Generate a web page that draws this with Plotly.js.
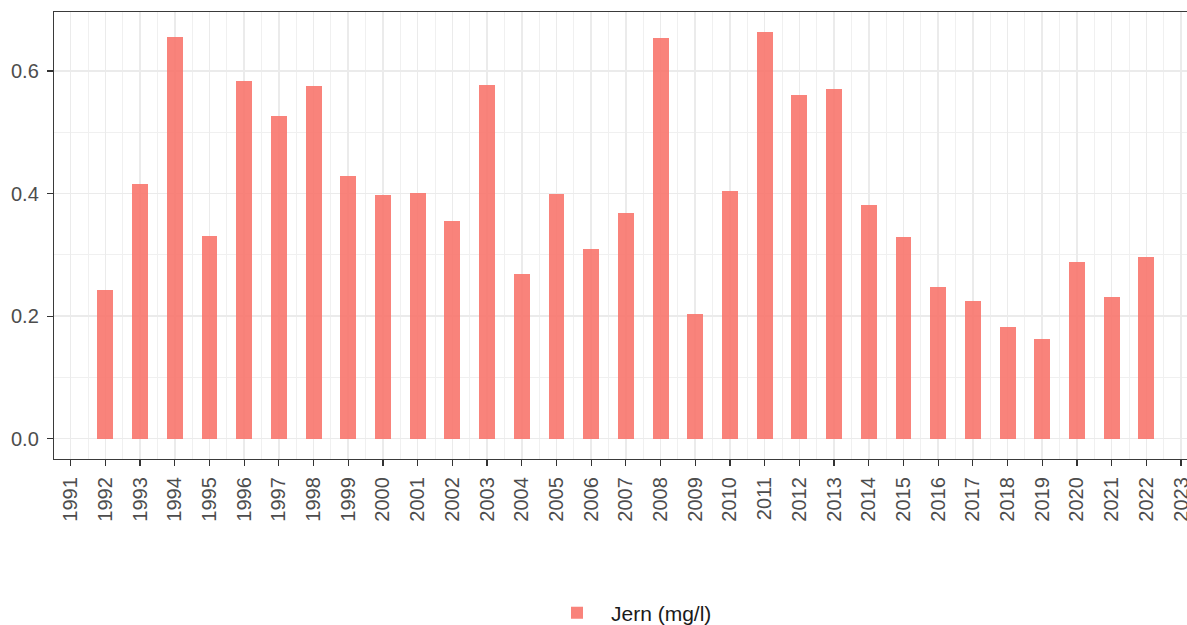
<!DOCTYPE html>
<html>
<head>
<meta charset="utf-8">
<script src="https://cdn.plot.ly/plotly-3.0.1.min.js"></script>
<style>
  html, body { margin: 0; padding: 0; overflow: hidden; background: #ffffff; }
  #chart { width: 1240px; height: 625px; }
</style>
</head>
<body>
<div id="chart"></div>
<script>
// Annual iron concentration (mg/l)
const years = [1992, 1993, 1994, 1995, 1996, 1997, 1998, 1999, 2000, 2001,
               2002, 2003, 2004, 2005, 2006, 2007, 2008, 2009, 2010, 2011,
               2012, 2013, 2014, 2015, 2016, 2017, 2018, 2019, 2020, 2021, 2022];
const jern = [0.243, 0.416, 0.656, 0.331, 0.583, 0.527, 0.576, 0.428, 0.397, 0.401,
              0.355, 0.577, 0.269, 0.399, 0.310, 0.368, 0.654, 0.204, 0.404, 0.663,
              0.561, 0.571, 0.382, 0.329, 0.248, 0.224, 0.183, 0.162, 0.288, 0.231, 0.296];
const seriesName = "Jern (mg/l)";
const xTicks = [];
for (let y = 1991; y <= 2023; y++) xTicks.push(y);
const yTicks = [0, 0.2, 0.4, 0.6];
const yTickText = ["0.0", "0.2", "0.4", "0.6"];

const maxVal = Math.max(...jern);
const pxPerYear = 34.7;
const plotWidth = 1240;
const plotHeight = 625;
const marginL = 54;
const xStart = 1990.519;
const xEnd = xStart + (plotWidth - marginL) / pxPerYear;

const trace = {
  type: "bar",
  x: years,
  y: jern,
  name: seriesName,
  width: 0.46,
  marker: { color: "rgba(248,118,109,0.9)", line: { width: 0 } },
  showlegend: true,
  hoverinfo: "x+y"
};

const gridMajor = "#EBEBEB";
const gridMinor = "#F0F0F0";
const axisFont = { family: "Liberation Sans, Arial, sans-serif", size: 20, color: "#4D4D4D" };

const layout = {
  width: plotWidth,
  height: plotHeight,
  margin: { l: marginL, r: 0, t: 12, b: 166 },
  paper_bgcolor: "#ffffff",
  plot_bgcolor: "#ffffff",
  font: axisFont,
  bargap: 0,
  xaxis: {
    range: [xStart, xEnd],
    tickmode: "array",
    tickvals: xTicks,
    ticktext: xTicks.map(String),
    tickangle: -90,
    ticks: "outside",
    ticklen: 6,
    tickwidth: 1.2,
    tickcolor: "#333333",
    ticklabelstandoff: 3,
    tickfont: axisFont,
    showgrid: true,
    gridcolor: gridMajor,
    gridwidth: 1.6,
    minor: { tickmode: "linear", tick0: 0.5, dtick: 1, showgrid: true, gridcolor: gridMinor, gridwidth: 1, ticklen: 0 },
    showline: true,
    linecolor: "#3a3a3a",
    linewidth: 1.2,
    mirror: true,
    zeroline: false,
    automargin: false,
    fixedrange: true
  },
  yaxis: {
    range: [-0.05 * maxVal, 1.05 * maxVal],
    tickmode: "array",
    tickvals: yTicks,
    ticktext: yTickText,
    ticks: "outside",
    ticklen: 6,
    tickwidth: 1.2,
    tickcolor: "#333333",
    ticklabelstandoff: 4,
    tickfont: axisFont,
    showgrid: true,
    gridcolor: gridMajor,
    gridwidth: 1.6,
    minor: { tickmode: "linear", tick0: 0.1, dtick: 0.2, showgrid: true, gridcolor: gridMinor, gridwidth: 1, ticklen: 0 },
    showline: true,
    linecolor: "#3a3a3a",
    linewidth: 1.2,
    mirror: true,
    zeroline: false,
    automargin: false,
    fixedrange: true
  },
  showlegend: true,
  legend: {
    orientation: "h",
    xref: "container",
    yref: "container",
    x: 543 / plotWidth,
    xanchor: "left",
    y: 1 - 613 / plotHeight,
    yanchor: "middle",
    itemwidth: 58,
    font: { family: "Liberation Sans, Arial, sans-serif", size: 21, color: "#1A1A1A" },
    bgcolor: "rgba(0,0,0,0)"
  }
};

Plotly.newPlot("chart", [trace], layout, { displayModeBar: false, staticPlot: true });
</script>
</body>
</html>
